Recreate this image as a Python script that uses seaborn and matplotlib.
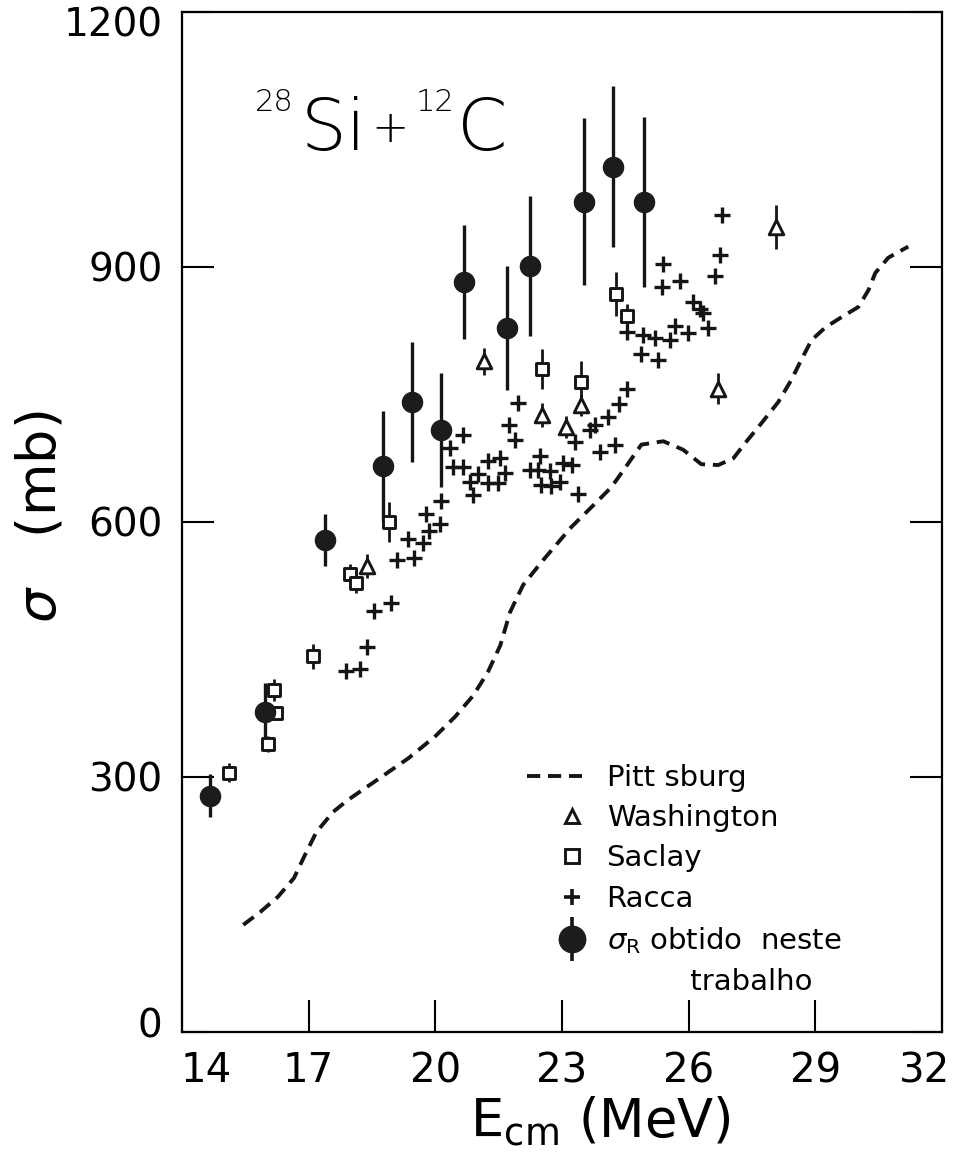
import numpy as np
import pandas as pd
import matplotlib
matplotlib.use("Agg")
import matplotlib.pyplot as plt
import seaborn as sns
from matplotlib.lines import Line2D
from matplotlib.legend_handler import HandlerTuple, HandlerLine2D
from matplotlib.transforms import ScaledTranslation

# ---------------- data ----------------
pitt_E = [15.45, 15.85, 16.27, 16.65, 16.91, 17.18, 17.58, 17.93, 18.72, 19.36,
          20.00, 20.47, 20.90, 21.25, 21.54, 21.77, 22.08, 22.55, 23.22, 23.79,
          24.17, 24.57, 24.88, 25.40, 25.87, 26.30, 26.70, 27.06, 27.34, 27.72,
          28.12, 28.43, 28.67, 28.91, 29.24, 29.62, 30.02, 30.26, 30.42, 30.73, 31.20]
pitt_sigma = [126, 141, 159, 181, 208, 235, 259, 273, 300, 322,
              348, 371, 396, 424, 455, 494, 526, 555, 594, 622,
              641, 669, 691, 695, 685, 668, 667, 675, 693, 716,
              741, 767, 791, 814, 829, 841, 853, 873, 893, 911, 924]

wash_E = [18.38, 21.16, 22.53, 23.09, 23.45, 26.69, 28.07]
wash_sigma = [548, 789, 726, 712, 738, 757, 947]
wash_err = [14, 16, 14, 13, 13, 18, 26]

saclay_E = [15.11, 16.04, 16.23, 16.18, 17.10, 17.98, 18.12, 18.91, 22.53, 23.44, 24.29, 24.55]
saclay_sigma = [305, 339, 375, 402, 442, 539, 528, 600, 780, 765, 868, 842]
saclay_err = [11, 9, 8, 13, 15, 12, 12, 24, 24, 24, 26, 14]

racca_E = [26.78, 26.74, 26.62, 25.40, 25.36, 25.79, 26.11, 26.27, 26.35, 25.68,
           25.99, 26.46, 24.55, 24.92, 25.20, 25.56, 24.87, 25.28, 24.53, 24.36,
           24.08, 23.78, 23.66, 23.31, 24.25, 23.90, 21.96, 21.75, 21.88, 20.66,
           20.34, 20.42, 20.66, 21.25, 21.53, 21.01, 21.65, 20.82, 21.25, 21.49,
           20.90, 20.14, 19.79, 20.11, 22.48, 22.24, 22.44, 22.71, 23.03, 23.23,
           22.51, 22.75, 22.95, 23.38, 18.39, 17.89, 18.21,
           18.55, 18.95, 19.10, 19.50, 19.35, 19.70, 19.85]
racca_sigma = [961, 914, 889, 904, 877, 883, 859, 851, 846, 830,
               822, 828, 823, 820, 817, 814, 798, 791, 757, 739,
               724, 714, 708, 694, 691, 682, 740, 714, 697, 702,
               687, 665, 665, 672, 675, 657, 658, 647, 646, 646,
               632, 625, 609, 598, 678, 661, 661, 660, 669, 667,
               644, 642, 647, 633, 453, 425, 427,
               495, 505, 555, 558, 580, 575, 590]

sr_E = [14.66, 15.96, 17.39, 18.76, 19.45, 20.13, 20.68, 21.70, 22.25, 23.53, 24.21, 24.95]
sr_sigma = [278, 377, 579, 666, 741, 708, 882, 828, 901, 977, 1018, 976]
sr_err = [25, 34, 31, 65, 71, 67, 67, 73, 82, 98, 95, 100]

x_ticks = [14, 17, 20, 23, 26, 29, 32]
y_ticks = [0, 300, 600, 900, 1200]

legend_labels = ['Pitt sburg', 'Washington', 'Saclay', 'Racca',
                 r'$\sigma_{\rm R}$ obtido  neste', '         trabalho']

# ---------------- figure ----------------
sns.set_theme(style="white")
plt.rcParams['font.family'] = ['DejaVu Sans']
plt.rcParams['axes.edgecolor'] = 'black'
plt.rcParams['text.color'] = 'black'
plt.rcParams['axes.labelcolor'] = 'black'

W, H = 954, 1168
fig = plt.figure(figsize=(W / 100, H / 100), dpi=100)
ax = fig.add_axes([182 / W, 1 - 1032 / H, (942 - 182) / W, (1032 - 12) / H])

INK = '#151515'
DASH = [3.4, 2.0]

# Pittsburg curve
sns.lineplot(x=pitt_E, y=pitt_sigma, sort=False, estimator=None, ax=ax,
             color=INK, lw=2.8, zorder=2)
ax.lines[-1].set_dashes(DASH)

# error bars
ax.errorbar(sr_E, sr_sigma, yerr=sr_err, fmt='none', ecolor=INK, elinewidth=2.4, zorder=3)
ax.errorbar(saclay_E, saclay_sigma, yerr=saclay_err, fmt='none', ecolor=INK, elinewidth=2.0, zorder=3)
ax.errorbar(wash_E, wash_sigma, yerr=wash_err, fmt='none', ecolor=INK, elinewidth=2.0, zorder=3)

# markers
sns.scatterplot(x=racca_E, y=racca_sigma, marker='+', s=130, color=INK, linewidth=2.4, ax=ax, zorder=4)
sns.scatterplot(x=saclay_E, y=saclay_sigma, marker='s', s=75, color='white', edgecolor=INK,
                linewidth=2.1, ax=ax, zorder=5)
sns.scatterplot(x=wash_E, y=wash_sigma, marker='^', s=110, color='white', edgecolor=INK,
                linewidth=2.1, ax=ax, zorder=5)
sns.scatterplot(x=sr_E, y=sr_sigma, marker='o', s=210, color='#1c1c1c', edgecolor='#1c1c1c',
                linewidth=1, ax=ax, zorder=6)

ax.set_xlim(14, 32)
ax.set_ylim(0, 1200)
ax.set_xticks(x_ticks)
ax.set_yticks(y_ticks)
ax.set_xticklabels([str(v) for v in x_ticks])
ax.set_yticklabels([str(v) for v in y_ticks])

for s in ax.spines.values():
    s.set_linewidth(1.6)
    s.set_color('black')

ax.tick_params(axis='x', direction='in', length=23, width=1.5, bottom=True, top=False,
               labelsize=29, pad=14, colors='black')
ax.tick_params(axis='y', direction='in', length=23, width=1.5, left=True, right=True,
               labelsize=28, pad=14, colors='black')

# shift corner labels inward like the original lettering
def shift(lbl, dx, dy):
    lbl.set_transform(lbl.get_transform() + ScaledTranslation(dx / 100, dy / 100, fig.dpi_scale_trans))

yt = ax.yaxis.get_major_ticks()
shift(yt[0].label1, 0, 10)
shift(yt[-1].label1, 0, -10)
xt = ax.xaxis.get_major_ticks()
shift(xt[0].label1, 24, 0)
shift(xt[-1].label1, -17, 0)

ax.set_xlabel(r'E$_{\mathrm{cm}}$ (MeV)', fontsize=38)
ax.xaxis.set_label_coords((600 - 182) / 760, (1032 - 1095) / 1020)
ax.set_ylabel(r'$\sigma$   (mb)', fontsize=39)
ax.yaxis.set_label_coords((67 - 182) / 760, 0.505)

# title-like annotation (thin lettering)
TW = 'light'
fig.text(255 / W, 1 - 111 / H, '28', fontsize=22, ha='left', va='baseline', fontweight=TW)
fig.text(301 / W, 1 - 150 / H, 'Si', fontsize=52, ha='left', va='baseline', fontweight=TW)
fig.text(390 / W, 1 - 130 / H, '+', fontsize=32, ha='center', va='center', fontweight=TW)
fig.text(416 / W, 1 - 111 / H, '12', fontsize=22, ha='left', va='baseline', fontweight=TW)
fig.text(457 / W, 1 - 150 / H, 'C', fontsize=52, ha='left', va='baseline', fontweight=TW)


# legend: markers sit toward the right end of the handle, as in the original
class RightMarkerHandler(HandlerLine2D):
    def get_xdata(self, legend, xdescent, ydescent, width, height, fontsize):
        xdata = np.array([-xdescent + 0.64 * width, -xdescent + width])
        return xdata, xdata


h_pitt = Line2D([], [], color=INK, lw=2.8, dashes=DASH)
h_wash = Line2D([], [], color=INK, marker='^', mfc='white', mec=INK, mew=2.1, ms=10.5, ls='none')
h_sac = Line2D([], [], color=INK, marker='s', mfc='white', mec=INK, mew=2.1, ms=9.5, ls='none')
h_rac = Line2D([], [], color=INK, marker='+', mew=2.6, ms=12, ls='none')
h_bar = Line2D([], [], color=INK, marker='|', mew=2.6, ms=31, ls='none')
h_dot = Line2D([], [], color=INK, marker='o', ms=19, ls='none', mfc='#1c1c1c', mec='#1c1c1c')
h_none = Line2D([], [], ls='none')
rh = RightMarkerHandler(numpoints=1)
leg = ax.legend([h_pitt, h_wash, h_sac, h_rac, (h_bar, h_dot), h_none], legend_labels,
                handler_map={tuple: HandlerTuple(ndivide=1), h_wash: rh, h_sac: rh,
                             h_rac: rh, h_bar: rh, h_dot: rh},
                loc='upper left', bbox_to_anchor=((527 - 182) / 760, (1032 - 764) / 1020),
                frameon=False, fontsize=21, handlelength=1.88, handletextpad=0.85,
                labelspacing=0.42, borderpad=0, borderaxespad=0)
for t in leg.get_texts():
    t.set_color('black')

fig.savefig('out.png', dpi=100, facecolor='white')
